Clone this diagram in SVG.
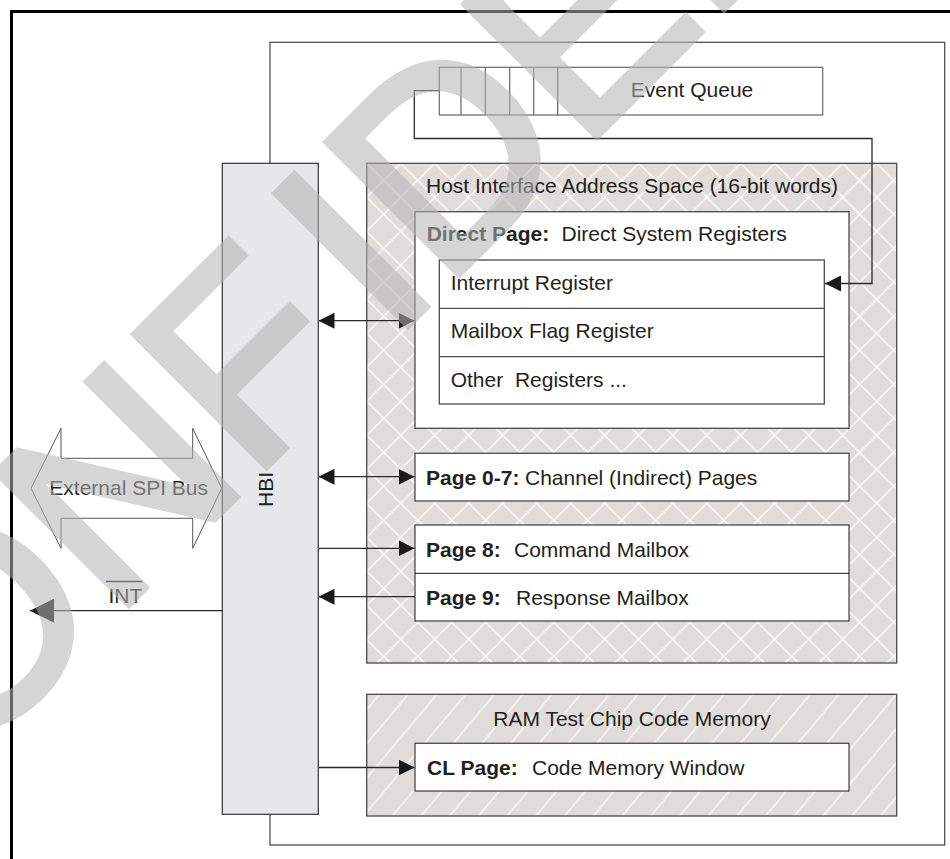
<svg xmlns="http://www.w3.org/2000/svg" width="950" height="859" viewBox="0 0 950 859">
<style>
  text { font-family: 'Liberation Sans', Arial, sans-serif; font-size: 21px; fill: #231f20; }
  .b { font-weight: bold; }
  .box { fill: #fff; stroke: #4a4a4a; stroke-width: 1.3; }
  .cell { fill: #fff; stroke: #666; stroke-width: 1.2; }
  .area { stroke: #4a4a4a; stroke-width: 1.3; }
  .con { fill: none; stroke: #2a2a2a; stroke-width: 1.3; }
  .wm { font-family: 'Liberation Sans', Arial, sans-serif; font-size: 270px; font-weight: normal; fill: #b4b4b4; stroke: #b4b4b4; stroke-width: 8; }
</style>
<defs>
  <pattern id="xh" patternUnits="userSpaceOnUse" width="34" height="34" x="366.7" y="163.3">
    <rect width="34" height="34" fill="#e0dcda"/>
    <path d="M0,0 L34,34 M34,0 L0,34" stroke="#fff" stroke-width="1.3"/>
  </pattern>
  <pattern id="dh" patternUnits="userSpaceOnUse" width="22" height="22" patternTransform="rotate(40)">
    <rect width="22" height="22" fill="#e0dcda"/>
    <line x1="11" y1="0" x2="11" y2="22" stroke="#fff" stroke-width="1.2"/>
  </pattern>
  <marker id="ah" markerUnits="userSpaceOnUse" markerWidth="16" markerHeight="16" refX="16" refY="8" orient="auto-start-reverse" viewBox="0 0 16 16">
    <path d="M0,0 L16,8 L0,16 z" fill="#1a1a1a"/>
  </marker>
  <marker id="ahL" markerUnits="userSpaceOnUse" markerWidth="24" markerHeight="24" refX="24" refY="12" orient="auto" viewBox="0 0 24 24">
    <path d="M0,0 L24,12 L0,24 z" fill="#1a1a1a"/>
  </marker>
</defs>

<rect width="950" height="859" fill="#fff"/>

<!-- outer frame -->
<path d="M11.5,870 V11.5 H960" fill="none" stroke="#000" stroke-width="3"/>

<!-- chip container -->
<g id="chip">
  <rect x="270" y="42.3" width="674.7" height="802.7" fill="none" stroke="#444" stroke-width="1.2"/>
</g>

<!-- event queue -->
<g id="event-queue">
  <rect class="cell" x="439.3" y="67.3" width="118.4" height="47.7"/>
  <path d="M461,67.3 V115 M485.3,67.3 V115 M509.7,67.3 V115 M533.7,67.3 V115" stroke="#666" stroke-width="1.2"/>
  <rect class="cell" x="557.7" y="67.3" width="265" height="47.7"/>
  <text x="692" y="97" text-anchor="middle">Event Queue</text>
</g>

<!-- HBI -->
<g id="hbi">
  <rect x="222.3" y="163.3" width="96" height="651" fill="#e6e7e9" stroke="#333" stroke-width="1.2"/>
  <text transform="translate(273,489.5) rotate(-90)" text-anchor="middle">HBI</text>
</g>

<!-- host interface address space -->
<g id="host-space">
  <rect class="area" x="366.7" y="163.3" width="530" height="499.7" fill="url(#xh)"/>
  <text x="632" y="193.3" text-anchor="middle">Host Interface Address Space (16-bit words)</text>
</g>

<g id="direct-page">
  <rect class="box" x="415" y="211.7" width="434" height="216.6"/>
  <text x="426.7" y="240.7"><tspan class="b">Direct Page:</tspan><tspan x="561.5">Direct System Registers</tspan></text>
</g>

<g id="registers">
  <rect class="box" x="439.3" y="260" width="385" height="144"/>
  <path d="M439.3,308.3 H824.3 M439.3,356.7 H824.3" stroke="#4a4a4a" stroke-width="1.3"/>
  <text x="450.7" y="290">Interrupt Register</text>
  <text x="450.7" y="338.3">Mailbox Flag Register</text>
  <text x="450.7" y="386.7" xml:space="preserve">Other  Registers ...</text>
</g>

<g id="page-0-7">
  <rect class="box" x="415" y="453.3" width="434" height="47.7"/>
  <text x="426" y="484.5"><tspan class="b">Page 0-7:</tspan><tspan x="525">Channel (Indirect) Pages</tspan></text>
</g>

<g id="mailboxes">
  <rect class="box" x="415" y="525" width="434" height="96"/>
  <path d="M415,573.3 H849" stroke="#4a4a4a" stroke-width="1.3"/>
  <text x="426" y="556.7"><tspan class="b">Page 8:</tspan><tspan x="514">Command Mailbox</tspan></text>
  <text x="426" y="604.7"><tspan class="b">Page 9:</tspan><tspan x="516">Response Mailbox</tspan></text>
</g>

<!-- RAM code memory -->
<g id="ram">
  <rect class="area" x="366.7" y="694.3" width="530" height="121.7" fill="url(#dh)"/>
  <text x="632" y="726" text-anchor="middle">RAM Test Chip Code Memory</text>
</g>

<g id="cl-page">
  <rect class="box" x="415" y="743.3" width="434" height="47.7"/>
  <text x="427" y="774.7"><tspan class="b">CL Page:</tspan><tspan x="532">Code Memory Window</tspan></text>
</g>

<!-- external SPI bus -->
<g id="spi-bus">
  <polygon points="31,488.3 61,428.3 61,458.3 192.7,458.3 192.7,428.3 221.7,488.3 192.7,548.3 192.7,518.3 61,518.3 61,548.3" fill="#fff" stroke="#555" stroke-width="1"/>
  <text x="49.3" y="495">External SPI Bus</text>
</g>

<!-- connectors -->
<g id="connectors">
  <path class="con" d="M439.3,90.7 H414.3 V138.5 H872 V283.5 H825" marker-end="url(#ah)"/>
  <path class="con" d="M318.5,320.7 H414.5" marker-start="url(#ah)" marker-end="url(#ah)"/>
  <path class="con" d="M318.5,476.7 H414.5" marker-start="url(#ah)" marker-end="url(#ah)"/>
  <path class="con" d="M318.5,548.3 H414.5" marker-end="url(#ah)"/>
  <path class="con" d="M415,596.7 H318.5" marker-end="url(#ah)"/>
  <path class="con" d="M318.5,767.5 H414.5" marker-end="url(#ah)"/>
  <path class="con" d="M222.3,610.7 H30" stroke="#444" marker-end="url(#ahL)"/>
</g>

<g id="int-label">
  <text x="108.5" y="602.7">INT</text>
  <line x1="106" y1="581.5" x2="142" y2="581.5" stroke="#231f20" stroke-width="1.4"/>
</g>

<!-- watermark -->
<g id="watermark" opacity="0.55">
  <text class="wm" transform="translate(-150.6,883) rotate(-45)"><tspan dx="-32">CONF</tspan><tspan dx="32">IDENTIAL</tspan></text>
</g>
</svg>
